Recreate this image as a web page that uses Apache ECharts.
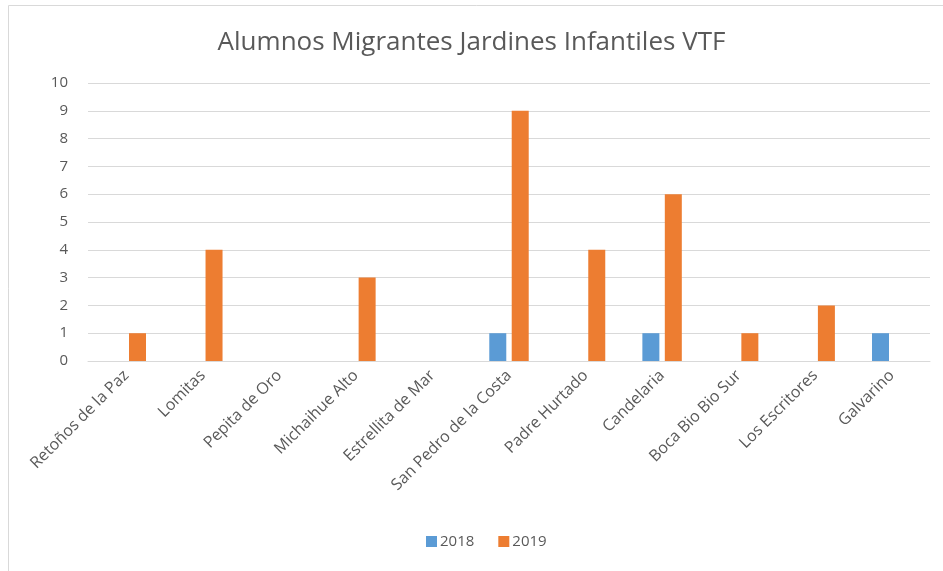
<!DOCTYPE html>
<html>
<head>
<meta charset="utf-8">
<script src="https://cdn.jsdelivr.net/npm/echarts@6/dist/echarts.min.js"></script>
<style>
  html, body { margin: 0; padding: 0; background: #fff; }
</style>
</head>
<body>
<div id="main" style="width: 943px; height: 571px;"></div>
<script>
var categories = ['Retoños de la Paz', 'Lomitas', 'Pepita de Oro', 'Michaihue Alto', 'Estrellita de Mar',
  'San Pedro de la Costa', 'Padre Hurtado', 'Candelaria', 'Boca Bio Bio Sur', 'Los Escritores', 'Galvarino'];
var values2018 = [0, 0, 0, 0, 0, 1, 0, 1, 0, 0, 1];
var values2019 = [1, 4, 0, 3, 0, 9, 4, 6, 1, 2, 0];
var seriesNames = ['2018', '2019'];

var textColor = '#595959';
var font = '"Open Sans", "Liberation Sans", sans-serif';

var myChart = echarts.init(document.getElementById('main'));
myChart.setOption({
    animation: false,
    textStyle: { fontFamily: font },
    title: {
        text: 'Alumnos Migrantes Jardines Infantiles VTF',
        left: 'center',
        top: 25,
        textStyle: { fontFamily: font, fontSize: 26, fontWeight: 'normal', color: textColor }
    },
    graphic: [{
        type: 'rect',
        shape: { x: 8.5, y: 5.5, width: 960, height: 600 },
        style: { fill: 'none', stroke: '#d9d9d9', lineWidth: 1 },
        silent: true
    }],
    legend: {
        data: seriesNames,
        bottom: 17,
        left: 421,
        itemWidth: 11,
        itemHeight: 11,
        itemGap: 24,
        icon: 'rect',
        textStyle: { fontFamily: font, fontSize: 15, color: textColor, padding: [0, 0, 0, -2] }
    },
    grid: { left: 88, right: 13, top: 83, bottom: 210, containLabel: false },
    xAxis: {
        type: 'category',
        data: categories,
        axisLine: { lineStyle: { color: '#d9d9d9' } },
        axisTick: { show: false },
        axisLabel: {
            rotate: 45,
            interval: 0,
            margin: 12,
            fontFamily: font,
            fontSize: 16,
            color: textColor
        }
    },
    yAxis: {
        type: 'value',
        min: 0,
        max: 10,
        interval: 1,
        axisLine: { show: false },
        axisTick: { show: false },
        axisLabel: { margin: 20, fontFamily: font, fontSize: 15, color: textColor },
        splitLine: { lineStyle: { color: '#d9d9d9' } }
    },
    series: [{
        name: seriesNames[0],
        type: 'bar',
        data: values2018,
        barWidth: 17,
        barGap: '32%',
        itemStyle: { color: '#5b9bd5' }
    }, {
        name: seriesNames[1],
        type: 'bar',
        data: values2019,
        barWidth: 17,
        barGap: '32%',
        itemStyle: { color: '#ed7d31' }
    }]
});
</script>
</body>
</html>
